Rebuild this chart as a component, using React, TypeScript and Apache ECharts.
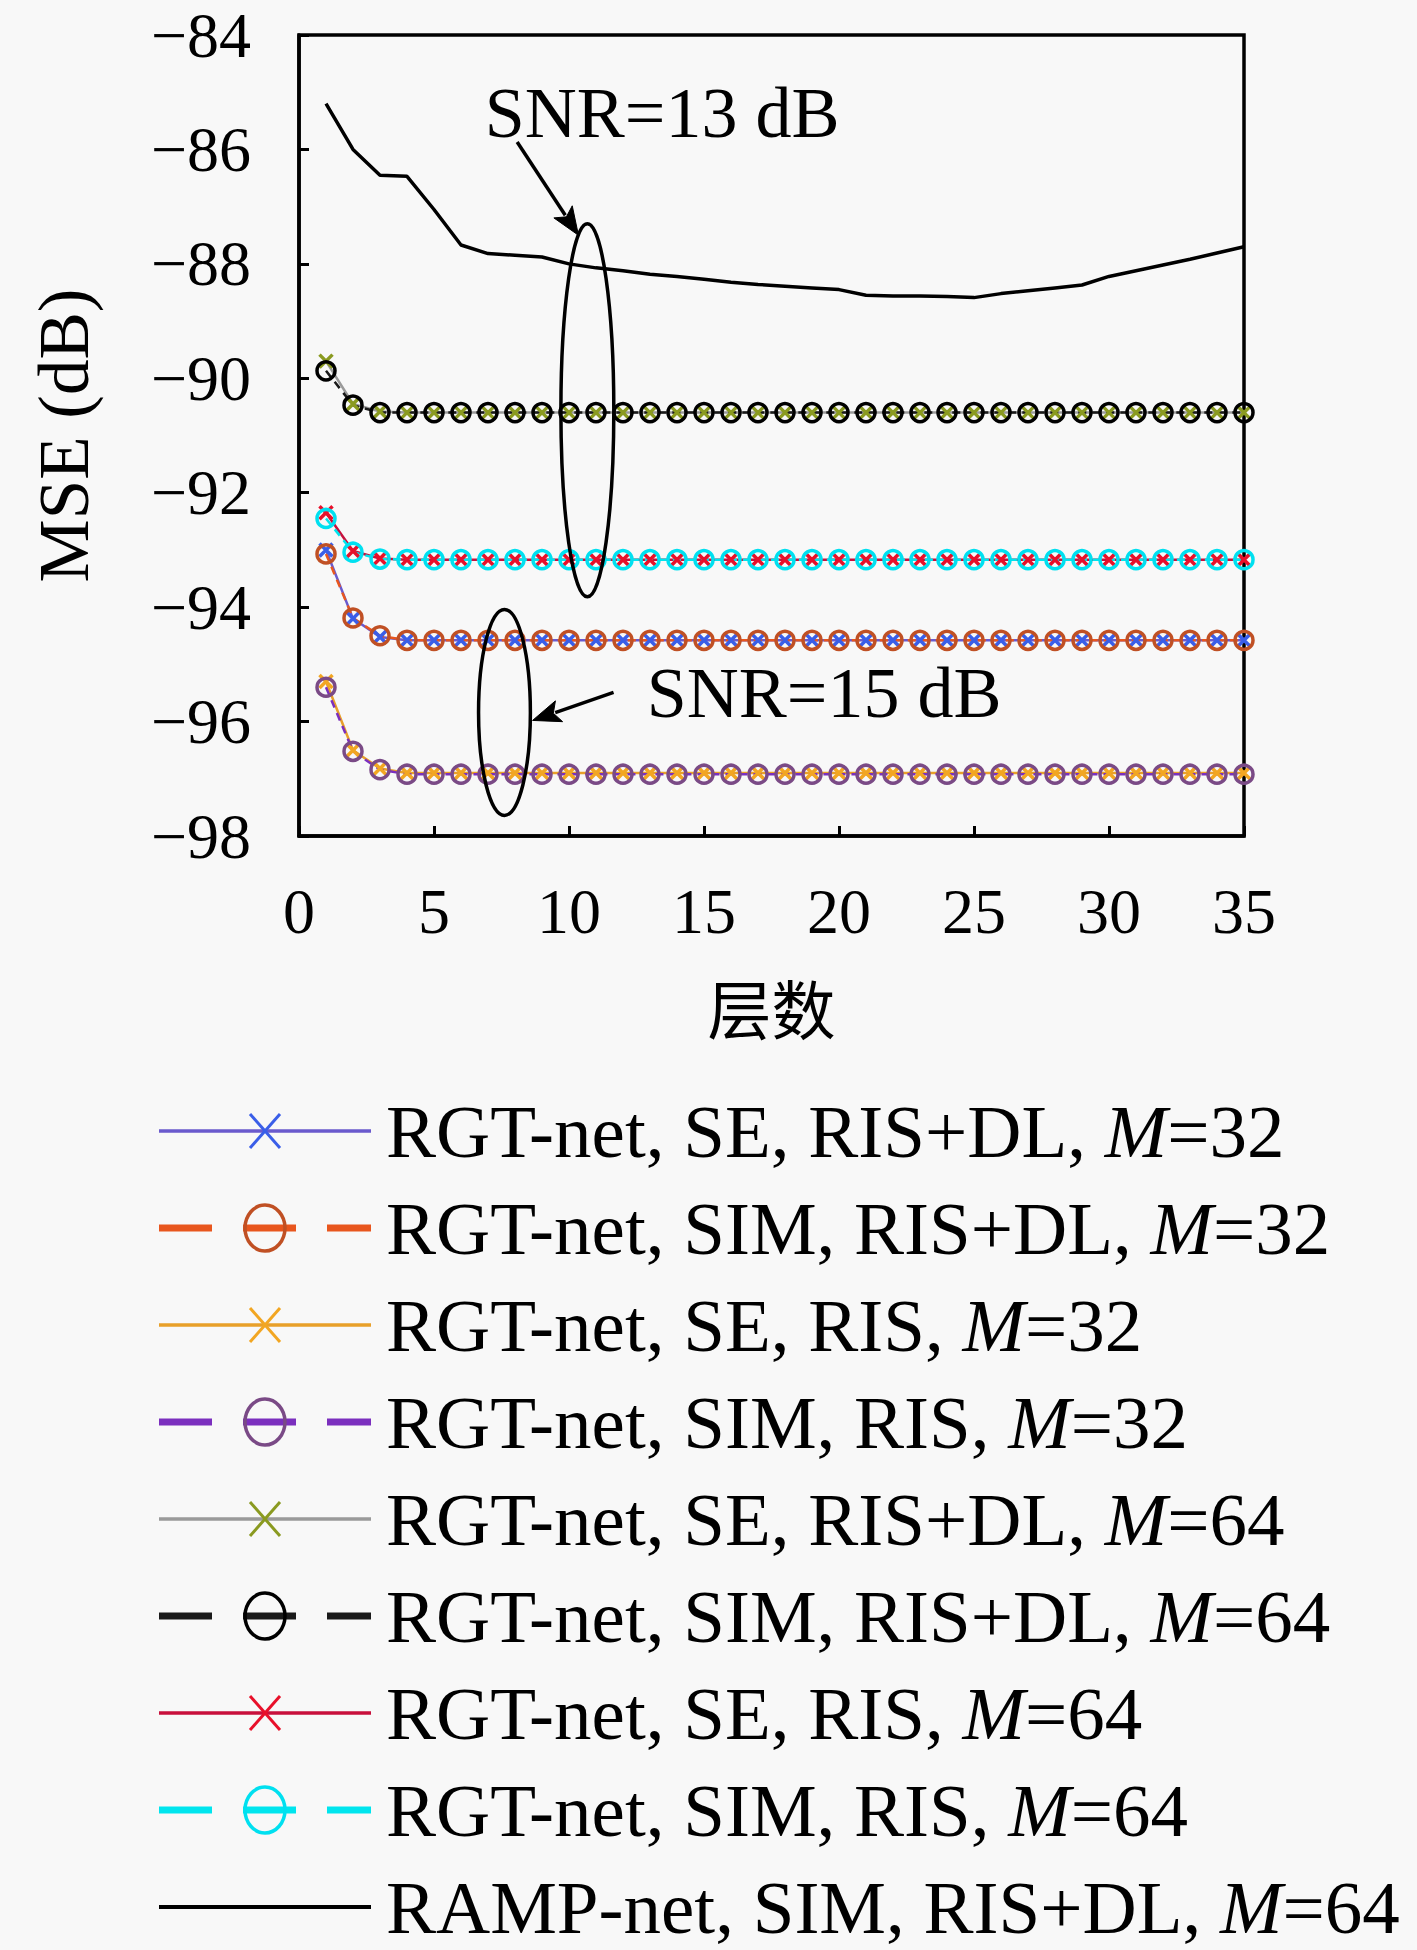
import React, { useEffect, useRef } from "react";
import * as echarts from "echarts";

// ---------- data ----------
const layers = [1, 2, 3, 4, 5, 6, 7, 8, 9, 10, 11, 12, 13, 14, 15, 16, 17, 18, 19, 20, 21, 22, 23, 24, 25, 26, 27, 28, 29, 30, 31, 32, 33, 34, 35];

const seRisDl32 = [-93.0, -94.2, -94.52, -94.58, -94.58, -94.58, -94.58, -94.58, -94.58, -94.58, -94.58, -94.58, -94.58, -94.58, -94.58, -94.58, -94.58, -94.58, -94.58, -94.58, -94.58, -94.58, -94.58, -94.58, -94.58, -94.58, -94.58, -94.58, -94.58, -94.58, -94.58, -94.58, -94.58, -94.58, -94.58];
const simRisDl32 = [-93.07, -94.19, -94.5, -94.58, -94.58, -94.58, -94.58, -94.58, -94.58, -94.58, -94.58, -94.58, -94.58, -94.58, -94.58, -94.58, -94.58, -94.58, -94.58, -94.58, -94.58, -94.58, -94.58, -94.58, -94.58, -94.58, -94.58, -94.58, -94.58, -94.58, -94.58, -94.58, -94.58, -94.58, -94.58];
const seRis32 = [-95.3, -96.5, -96.82, -96.9, -96.9, -96.9, -96.9, -96.9, -96.9, -96.9, -96.9, -96.9, -96.9, -96.9, -96.9, -96.9, -96.9, -96.9, -96.9, -96.9, -96.9, -96.9, -96.9, -96.9, -96.9, -96.9, -96.9, -96.9, -96.9, -96.9, -96.9, -96.9, -96.9, -96.9, -96.9];
const simRis32 = [-95.4, -96.52, -96.84, -96.92, -96.92, -96.92, -96.92, -96.92, -96.92, -96.92, -96.92, -96.92, -96.92, -96.92, -96.92, -96.92, -96.92, -96.92, -96.92, -96.92, -96.92, -96.92, -96.92, -96.92, -96.92, -96.92, -96.92, -96.92, -96.92, -96.92, -96.92, -96.92, -96.92, -96.92, -96.92];
const seRisDl64 = [-89.7, -90.45, -90.58, -90.6, -90.6, -90.6, -90.6, -90.6, -90.6, -90.6, -90.6, -90.6, -90.6, -90.6, -90.6, -90.6, -90.6, -90.6, -90.6, -90.6, -90.6, -90.6, -90.6, -90.6, -90.6, -90.6, -90.6, -90.6, -90.6, -90.6, -90.6, -90.6, -90.6, -90.6, -90.6];
const simRisDl64 = [-89.87, -90.47, -90.6, -90.6, -90.6, -90.6, -90.6, -90.6, -90.6, -90.6, -90.6, -90.6, -90.6, -90.6, -90.6, -90.6, -90.6, -90.6, -90.6, -90.6, -90.6, -90.6, -90.6, -90.6, -90.6, -90.6, -90.6, -90.6, -90.6, -90.6, -90.6, -90.6, -90.6, -90.6, -90.6];
const seRis64 = [-92.35, -93.02, -93.15, -93.17, -93.17, -93.17, -93.17, -93.17, -93.17, -93.17, -93.17, -93.17, -93.17, -93.17, -93.17, -93.17, -93.17, -93.17, -93.17, -93.17, -93.17, -93.17, -93.17, -93.17, -93.17, -93.17, -93.17, -93.17, -93.17, -93.17, -93.17, -93.17, -93.17, -93.17, -93.17];
const simRis64 = [-92.45, -93.04, -93.16, -93.17, -93.17, -93.17, -93.17, -93.17, -93.17, -93.17, -93.17, -93.17, -93.17, -93.17, -93.17, -93.17, -93.17, -93.17, -93.17, -93.17, -93.17, -93.17, -93.17, -93.17, -93.17, -93.17, -93.17, -93.17, -93.17, -93.17, -93.17, -93.17, -93.17, -93.17, -93.17];
const rampSimRisDl64 = [-85.2, -86.0, -86.45, -86.47, -87.05, -87.67, -87.82, -87.85, -87.88, -88.0, -88.07, -88.12, -88.18, -88.22, -88.27, -88.32, -88.36, -88.39, -88.42, -88.45, -88.55, -88.56, -88.56, -88.57, -88.59, -88.52, -88.47, -88.42, -88.37, -88.22, -88.12, -88.02, -87.92, -87.81, -87.7];

const seriesNames = [
  "RGT-net, SE, RIS+DL, M=32",
  "RGT-net, SIM, RIS+DL, M=32",
  "RGT-net, SE, RIS, M=32",
  "RGT-net, SIM, RIS, M=32",
  "RGT-net, SE, RIS+DL, M=64",
  "RGT-net, SIM, RIS+DL, M=64",
  "RGT-net, SE, RIS, M=64",
  "RGT-net, SIM, RIS, M=64",
  "RAMP-net, SIM, RIS+DL, M=64",
];
const seriesValues = [seRisDl32, simRisDl32, seRis32, simRis32, seRisDl64, simRisDl64, seRis64, simRis64, rampSimRisDl64];

const xTicks = [0, 5, 10, 15, 20, 25, 30, 35];
const yTicks = [-98, -96, -94, -92, -90, -88, -86, -84];

// ---------- styles ----------
type Kind = "x" | "circle" | "none";
const styles: { line: string; marker: string; kind: Kind; dashed: boolean }[] = [
  { line: "#6a5acd", marker: "#3a5ee8", kind: "x", dashed: false },
  { line: "#e8561e", marker: "#c05024", kind: "circle", dashed: true },
  { line: "#e8a02a", marker: "#f2a622", kind: "x", dashed: false },
  { line: "#7b2fbe", marker: "#7a4a86", kind: "circle", dashed: true },
  { line: "#9a9a9a", marker: "#8a9a20", kind: "x", dashed: false },
  { line: "#1a1a1a", marker: "#000000", kind: "circle", dashed: true },
  { line: "#c8103c", marker: "#e8102a", kind: "x", dashed: false },
  { line: "#00e5ee", marker: "#00e0f0", kind: "circle", dashed: true },
  { line: "#000000", marker: "#000000", kind: "none", dashed: false },
];

const SERIF = "'Liberation Serif', 'Times New Roman', serif";
const CJK = "'Noto Sans CJK SC', sans-serif";
const X_PATH = "path://M0,0L10,10M10,0L0,10";

export default function App() {
  const ref = useRef<HTMLDivElement>(null);

  useEffect(() => {
    document.body.style.margin = "0";
    const chart = echarts.init(ref.current!, null, { renderer: "svg" });

    const series = seriesNames.map((name, i) => {
      const st = styles[i];
      const data = layers.map((l, k) => [l, seriesValues[i][k]]);
      const base: any = {
        name,
        type: "line",
        data,
        silent: true,
        emphasis: { disabled: true },
        lineStyle: {
          color: st.line,
          width: st.kind === "none" ? 3.5 : 2.5,
          type: st.dashed ? [8, 6] : "solid",
        },
      };
      if (st.kind === "none") {
        base.symbol = "none";
        base.showSymbol = false;
      } else if (st.kind === "x") {
        base.symbol = X_PATH;
        base.symbolSize = 13;
        base.itemStyle = { color: "rgba(0,0,0,0)", borderColor: st.marker, borderWidth: 3.5 };
      } else {
        base.symbol = "circle";
        base.symbolSize = 18;
        base.itemStyle = { color: "rgba(0,0,0,0)", borderColor: st.marker, borderWidth: 3.5 };
      }
      return base;
    });

    chart.setOption({
      animation: false,
      backgroundColor: "#f8f8f8",
      grid: {
        left: 299,
        top: 35,
        width: 945,
        height: 801,
        show: true,
        borderColor: "#000",
        borderWidth: 3.5,
        backgroundColor: "transparent",
      },
      xAxis: {
        type: "value",
        min: xTicks[0],
        max: xTicks[xTicks.length - 1],
        interval: 5,
        axisLine: { show: true, lineStyle: { color: "#000", width: 3.5 } },
        axisTick: { show: true, inside: true, length: 10, lineStyle: { color: "#000", width: 3 } },
        splitLine: { show: false },
        axisLabel: { color: "#000", fontSize: 64, fontFamily: SERIF, margin: 43 },
        name: "层数",
        nameLocation: "middle",
        nameGap: 138,
        nameTextStyle: { color: "#000", fontSize: 64, fontFamily: CJK },
      },
      yAxis: {
        type: "value",
        min: yTicks[0],
        max: yTicks[yTicks.length - 1],
        interval: 2,
        axisLine: { show: true, lineStyle: { color: "#000", width: 3.5 } },
        axisTick: { show: true, inside: true, length: 10, lineStyle: { color: "#000", width: 3 } },
        splitLine: { show: false },
        axisLabel: {
          color: "#000",
          fontSize: 64,
          fontFamily: SERIF,
          margin: 48,
          formatter: (v: number) => String(v).replace("-", "\u2212"),
        },
        name: "MSE (dB)",
        nameLocation: "middle",
        nameGap: 200,
        nameTextStyle: { color: "#000", fontSize: 71, fontFamily: SERIF },
      },
      series,
    });

    const px = (x: number, y: number) => chart.convertToPixel({ gridIndex: 0 }, [x, y]) as number[];

    // ---------- annotations (data coordinates) ----------
    const ellipses = [
      { cx: 10.68, cy: -90.56, rx: 0.98, ry: 3.26 },
      { cx: 7.61, cy: -95.84, rx: 0.96, ry: 1.8 },
    ];
    const arrows = [
      { from: [8.08, -85.87], to: [10.35, -87.5] },
      { from: [11.65, -95.49], to: [8.65, -95.98] },
    ];
    const labels = [
      { x: 6.88, y: -85.36, text: "SNR=13 dB" },
      { x: 12.88, y: -95.5, text: "SNR=15 dB" },
    ];

    const graphics: any[] = [];
    ellipses.forEach((e) => {
      const c = px(e.cx, e.cy);
      const r = px(e.cx + e.rx, e.cy + e.ry);
      graphics.push({
        type: "ellipse",
        shape: { cx: c[0], cy: c[1], rx: Math.abs(r[0] - c[0]), ry: Math.abs(r[1] - c[1]) },
        style: { fill: "none", stroke: "#000", lineWidth: 3.5 },
        z: 100,
      });
    });
    arrows.forEach((a) => {
      const p0 = px(a.from[0], a.from[1]);
      const p1 = px(a.to[0], a.to[1]);
      const dx = p1[0] - p0[0];
      const dy = p1[1] - p0[1];
      const len = Math.sqrt(dx * dx + dy * dy);
      const ux = dx / len;
      const uy = dy / len;
      const hl = 28;
      const hw = 11;
      const bx = p1[0] - ux * hl;
      const by = p1[1] - uy * hl;
      graphics.push({
        type: "line",
        shape: { x1: p0[0], y1: p0[1], x2: bx + ux * 4, y2: by + uy * 4 },
        style: { stroke: "#000", lineWidth: 3.5 },
        z: 100,
      });
      graphics.push({
        type: "polygon",
        shape: {
          points: [
            [p1[0], p1[1]],
            [bx - uy * hw, by + ux * hw],
            [bx + ux * 6, by + uy * 6],
            [bx + uy * hw, by - ux * hw],
          ],
        },
        style: { fill: "#000", stroke: "#000", lineWidth: 1 },
        z: 100,
      });
    });
    labels.forEach((l) => {
      const p = px(l.x, l.y);
      graphics.push({
        type: "text",
        x: p[0],
        y: p[1],
        style: {
          text: l.text,
          font: `72px ${SERIF}`,
          fill: "#000",
          align: "left",
          verticalAlign: "middle",
        },
        z: 100,
      });
    });

    // ---------- legend (drawn from series definitions) ----------
    const legX0 = 159;
    const legX1 = 371;
    const legMid = (legX0 + legX1) / 2;
    const legTop = 1131;
    const legStep = 97;
    seriesNames.forEach((name, i) => {
      const st = styles[i];
      const y = legTop + i * legStep;
      graphics.push({
        type: "line",
        shape: { x1: legX0, y1: y, x2: legX1, y2: y },
        style: {
          stroke: st.line,
          lineWidth: st.dashed ? 7 : st.kind === "none" ? 4 : 3.5,
          lineDash: st.dashed ? [53, 31] : null,
        },
      });
      if (st.kind === "circle") {
        graphics.push({
          type: "ellipse",
          shape: { cx: legMid, cy: y, rx: 20, ry: 23 },
          style: { fill: "none", stroke: st.marker, lineWidth: 3.5 },
        });
      } else if (st.kind === "x") {
        const s = 15;
        graphics.push({
          type: "line",
          shape: { x1: legMid - s, y1: y - s - 2, x2: legMid + s, y2: y + s + 2 },
          style: { stroke: st.marker, lineWidth: 3 },
        });
        graphics.push({
          type: "line",
          shape: { x1: legMid + s, y1: y - s - 2, x2: legMid - s, y2: y + s + 2 },
          style: { stroke: st.marker, lineWidth: 3 },
        });
      }
      const mIdx = name.lastIndexOf("M=");
      const pre = name.slice(0, mIdx);
      const post = name.slice(mIdx + 1);
      graphics.push({
        type: "text",
        x: 386,
        y,
        style: {
          text: `{a|${pre}}{i|M}{a|${post}}`,
          rich: {
            a: { fontSize: 75, fontFamily: SERIF, fill: "#000" },
            i: { fontSize: 75, fontFamily: SERIF, fontStyle: "italic", fill: "#000" },
          },
          align: "left",
          verticalAlign: "middle",
        },
      });
    });

    chart.setOption({ graphic: graphics });

    return () => chart.dispose();
  }, []);

  return <div ref={ref} style={{ width: 1417, height: 1950 }} />;
}
